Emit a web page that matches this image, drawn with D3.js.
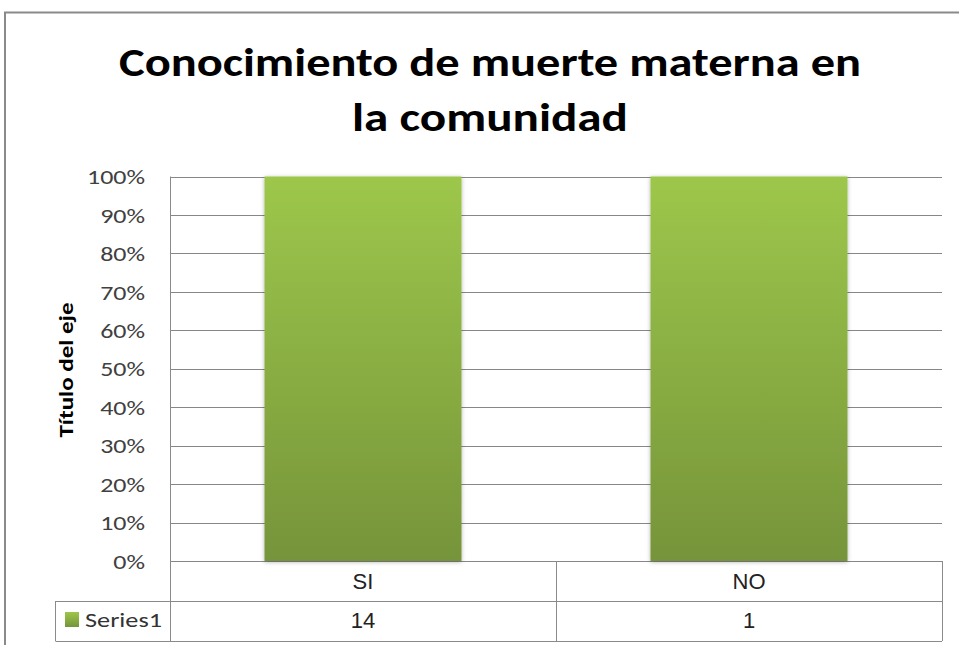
<!DOCTYPE html>
<html>
<head>
<meta charset="utf-8">
<script src="https://cdn.jsdelivr.net/npm/d3@7"></script>
<style>
  html, body { margin: 0; padding: 0; background: #fff; }
  svg { display: block; }
  .tick text { font-family: Carlito, Calibri, Lato, sans-serif; }
</style>
</head>
<body>
<svg id="chart" width="959" height="645"></svg>
<script>
// data
var categories = ["SI", "NO"];
var seriesName = "Series1";
var seriesValues = [14, 1];
var yTicks = [0, 0.1, 0.2, 0.3, 0.4, 0.5, 0.6, 0.7, 0.8, 0.9, 1];
var titleLines = ["Conocimiento de muerte materna en", "la comunidad"];
var yTitle = "Título del eje";

var W = 959, H = 645;
var plot = {left: 170, right: 942, top: 176.5, bottom: 561};
var tableRow = 40;
var calibri = "Carlito, Calibri, Lato, sans-serif";

var svg = d3.select("#chart");

// stretch a text to a given width (Calibri is narrower than what we have)
function fitWidth(sel, w) {
  sel.each(function () {
    var n = this.getComputedTextLength();
    if (n > 0) d3.select(this).attr("textLength", w).attr("lengthAdjust", "spacingAndGlyphs");
  });
}

// gradients / shadow
var defs = svg.append("defs");
var grad = defs.append("linearGradient")
  .attr("id", "barGrad").attr("x1", 0).attr("y1", 0).attr("x2", 0).attr("y2", 1);
grad.append("stop").attr("offset", "0%").attr("stop-color", "#9dc74b");
grad.append("stop").attr("offset", "100%").attr("stop-color", "#76943a");

var shadow = defs.append("filter").attr("id", "barShadow")
  .attr("x", "-10%").attr("y", "-10%").attr("width", "120%").attr("height", "120%");
shadow.append("feDropShadow")
  .attr("dx", 0).attr("dy", 1).attr("stdDeviation", 2.2)
  .attr("flood-color", "#000").attr("flood-opacity", 0.3);

// outer frame
svg.append("rect")
  .attr("x", 5).attr("y", 12.5)
  .attr("width", W + 20).attr("height", H + 20)
  .attr("fill", "#fff").attr("stroke", "#8a8a8a").attr("stroke-width", 2);

// title
var titleWidths = [742, 276];
var titleBase = [76, 131];
titleLines.forEach(function (t, i) {
  var txt = svg.append("text")
    .attr("x", 490).attr("y", titleBase[i])
    .attr("text-anchor", "middle")
    .style("font-family", calibri)
    .style("font-weight", "bold")
    .style("font-size", "40px")
    .attr("fill", "#000")
    .text(t);
  fitWidth(txt, titleWidths[i]);
});

// stacked 100% data
var rows = categories.map(function (c, i) {
  var o = {cat: c}; o[seriesName] = seriesValues[i]; return o;
});
var stacked = d3.stack().keys([seriesName]).offset(d3.stackOffsetExpand)(rows);

var x = d3.scaleBand().domain(categories)
  .range([plot.left, plot.right]).paddingInner(0).paddingOuter(0);
var y = d3.scaleLinear().domain([0, 1]).range([plot.bottom, plot.top]);

// gridlines
svg.append("g").selectAll("line").data(yTicks).join("line")
  .attr("x1", plot.left).attr("x2", plot.right)
  .attr("y1", function (d) { return Math.round(y(d)) + 0.5; })
  .attr("y2", function (d) { return Math.round(y(d)) + 0.5; })
  .attr("stroke", "#878787").attr("stroke-width", 1);

// y axis labels
var yAxis = d3.axisLeft(y).tickValues(yTicks).tickFormat(d3.format(".0%")).tickSize(0).tickPadding(25);
var ya = svg.append("g").attr("transform", "translate(" + plot.left + ",0)").call(yAxis);
ya.select(".domain").remove();
var yLabels = ya.selectAll("text")
  .style("font-size", "20px").attr("fill", "#404040").attr("dy", "0.36em");
var widest = 0;
yLabels.each(function () { widest = Math.max(widest, this.getComputedTextLength()); });
var yStretch = widest > 0 ? 58 / widest : 1;
yLabels.each(function () {
  var n = this.getComputedTextLength();
  d3.select(this).attr("textLength", n * yStretch).attr("lengthAdjust", "spacingAndGlyphs");
});

// y axis title
var yt = svg.append("text")
  .attr("transform", "translate(73,370) rotate(-90)")
  .attr("text-anchor", "middle")
  .style("font-family", calibri)
  .style("font-weight", "bold").style("font-size", "21px")
  .attr("fill", "#000")
  .text(yTitle);
fitWidth(yt, 135);

// bars
var barW = 197;
svg.append("g").selectAll("g").data(stacked).join("g")
  .selectAll("rect").data(function (s) { return s; }).join("rect")
  .attr("x", function (d) { return x(d.data.cat) + (x.bandwidth() - barW) / 2; })
  .attr("y", function (d) { return y(d[1]); })
  .attr("width", barW)
  .attr("height", function (d) { return y(d[0]) - y(d[1]); })
  .attr("fill", "url(#barGrad)")
  .attr("filter", "url(#barShadow)");

// data table
var tbl = svg.append("g").attr("stroke", "#8a8a8a").attr("stroke-width", 1);
var legendLeft = 55.5;
var tBottom = plot.bottom + 2 * tableRow;
tbl.append("line").attr("x1", plot.left + 0.5).attr("x2", plot.left + 0.5)
  .attr("y1", plot.top).attr("y2", tBottom);
categories.forEach(function (c) {
  var xr = Math.round(x(c) + x.bandwidth()) + 0.5;
  tbl.append("line").attr("x1", xr).attr("x2", xr)
    .attr("y1", plot.bottom).attr("y2", tBottom);
});
tbl.append("line").attr("x1", legendLeft).attr("x2", plot.right)
  .attr("y1", plot.bottom + tableRow + 0.5).attr("y2", plot.bottom + tableRow + 0.5);
tbl.append("line").attr("x1", legendLeft).attr("x2", plot.right)
  .attr("y1", tBottom + 0.5).attr("y2", tBottom + 0.5);
tbl.append("line").attr("x1", legendLeft).attr("x2", legendLeft)
  .attr("y1", plot.bottom + tableRow).attr("y2", tBottom);

// category labels
svg.append("g").selectAll("text").data(categories).join("text")
  .attr("x", function (d) { return x(d) + x.bandwidth() / 2; })
  .attr("y", 589)
  .attr("text-anchor", "middle")
  .style("font-family", "'Liberation Sans', Arial, sans-serif")
  .style("font-size", "22px").attr("fill", "#222")
  .text(function (d) { return d; });

// values row
svg.append("g").selectAll("text").data(seriesValues).join("text")
  .attr("x", function (d, i) { return x(categories[i]) + x.bandwidth() / 2; })
  .attr("y", 628)
  .attr("text-anchor", "middle")
  .style("font-family", "'Liberation Sans', Arial, sans-serif")
  .style("font-size", "22px").attr("fill", "#222")
  .text(function (d) { return d; });

// legend key
svg.append("rect")
  .attr("x", 65).attr("y", 612).attr("width", 14).attr("height", 15)
  .attr("fill", "url(#barGrad)");
var lt = svg.append("text")
  .attr("x", 85).attr("y", 627)
  .style("font-family", calibri)
  .style("font-size", "20px").attr("fill", "#333")
  .text(seriesName);
fitWidth(lt, 77);
</script>
</body>
</html>
